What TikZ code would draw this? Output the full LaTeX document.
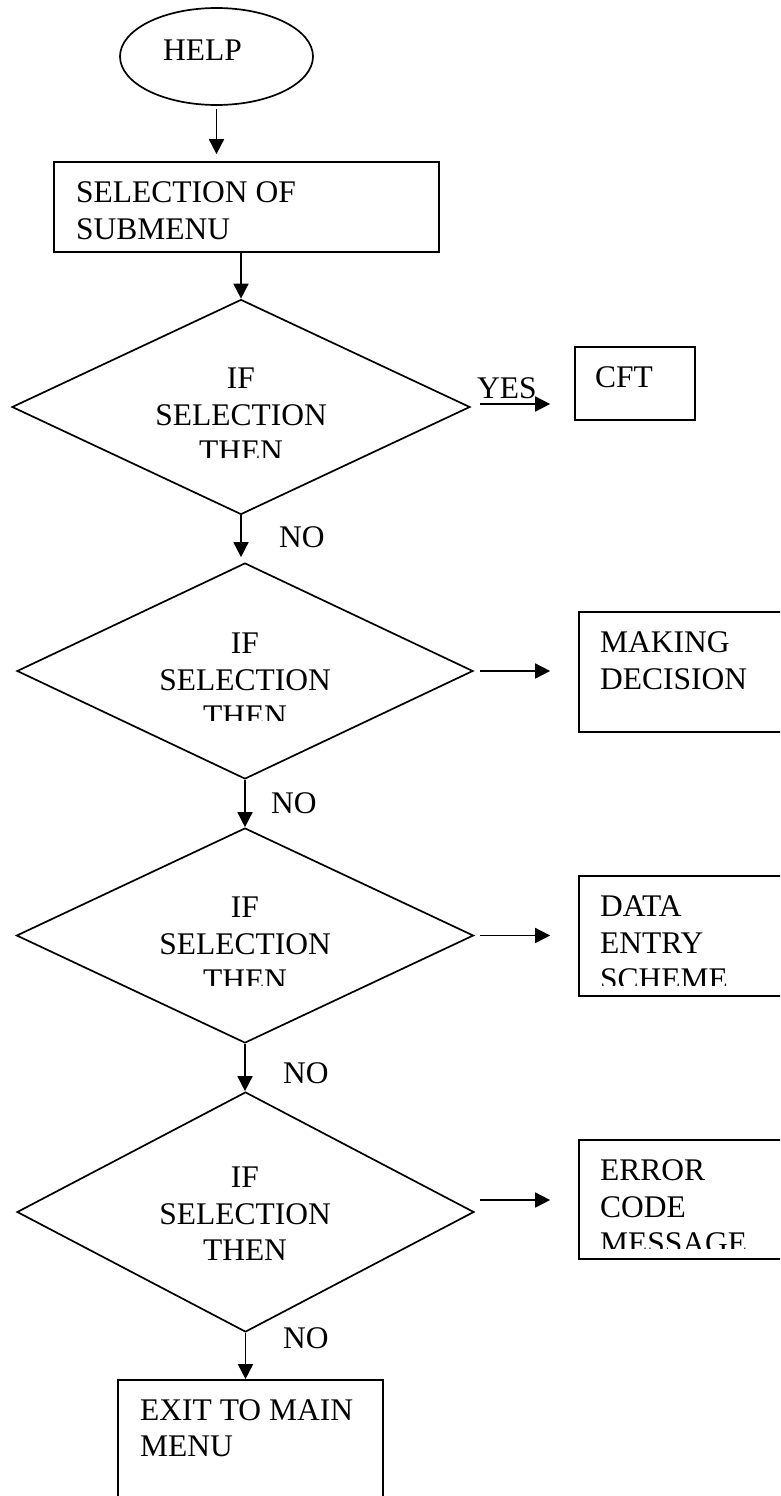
\documentclass[tikz,border=0pt]{standalone}
\usepackage{fontspec}
\setmainfont{Liberation Serif}
\usetikzlibrary{shapes.geometric,arrows.meta}
\begin{document}
\begin{tikzpicture}[x=1pt,y=-1pt,
  lw/.style={line width=1.7pt},
  box/.style={draw,lw,rectangle,inner sep=0pt},
  dia/.style={draw,lw,diamond,inner sep=0pt},
  oval/.style={draw,lw,ellipse,inner sep=0pt},
  lbl/.style={font=\fontsize{31.5}{36.5}\selectfont,inner sep=0pt},
  arr/.style={lw,-{Triangle[length=15pt,width=15pt]}}
]
\useasboundingbox (0,0) rectangle (780,1496);
\fill[white] (0,0) rectangle (780,1496);
\clip (0,0) rectangle (780,1496);

% start (multi-line labels are anchored at the baseline of their last line)
\node[oval,minimum width=193pt,minimum height=97pt] (help) at (216.5,56.5) {};
\node[lbl,anchor=base] (helptxt) at (202.5,60.5) {HELP};

% submenu selection
\node[box,minimum width=385pt,minimum height=90pt] (sel) at (246.5,207) {};
\node[lbl,anchor=base west,align=left] (seltxt) at (76,239) {SELECTION OF\\SUBMENU};

% decisions
\node[dia,minimum width=458pt,minimum height=215pt] (d1) at (241,407) {};
\node[dia,minimum width=456pt,minimum height=216pt] (d2) at (245,671) {};
\node[dia,minimum width=457pt,minimum height=215pt] (d3) at (245,935.5) {};
\node[dia,minimum width=457pt,minimum height=240pt] (d4) at (245.5,1212) {};

\begin{scope}
  \clip (0,300) rectangle (780,457);
  \node[lbl,anchor=base,align=center] (t1) at (241,461.5) {IF\\SELECTION\\THEN};
\end{scope}
\begin{scope}
  \clip (0,560) rectangle (780,720);
  \node[lbl,anchor=base,align=center] (t2) at (245,726.5) {IF\\SELECTION\\THEN};
\end{scope}
\begin{scope}
  \clip (0,830) rectangle (780,985);
  \node[lbl,anchor=base,align=center] (t3) at (245,990.5) {IF\\SELECTION\\THEN};
\end{scope}
\node[lbl,anchor=base,align=center] (t4) at (245,1260.5) {IF\\SELECTION\\THEN};

% outcomes
\node[box,minimum width=120pt,minimum height=73pt] (cft) at (635,383.5) {};
\node[lbl,anchor=base west] (cfttxt) at (595,387.5) {CFT};

\node[box,minimum width=221pt,minimum height=120pt] (mk) at (689.5,672) {};
\node[lbl,anchor=base west,align=left] (mktxt) at (600,689) {MAKING\\DECISION};

\node[box,minimum width=221pt,minimum height=120pt] (de) at (689.5,936) {};
\begin{scope}
  \clip (580,877) rectangle (780,985);
  \node[lbl,anchor=base west,align=left] (detxt) at (600,989.5) {DATA\\ENTRY\\SCHEME};
\end{scope}

\node[box,minimum width=221pt,minimum height=119pt] (ec) at (689.5,1199.5) {};
\begin{scope}
  \clip (580,1141) rectangle (780,1248);
  \node[lbl,anchor=base west,align=left] (ectxt) at (600,1253.5) {ERROR\\CODE\\MESSAGE};
\end{scope}

\node[box,minimum width=265pt,minimum height=150pt] (exit) at (250.5,1455) {};
\node[lbl,anchor=base west,align=left] (exittxt) at (140,1456.5) {EXIT TO MAIN\\MENU};

% branch labels
\node[lbl,anchor=base west] (yes) at (477,398) {YES};
\node[lbl,anchor=base west] (no1) at (279,547) {NO};
\node[lbl,anchor=base west] (no2) at (271,813) {NO};
\node[lbl,anchor=base west] (no3) at (283,1083) {NO};
\node[lbl,anchor=base west] (no4) at (283,1348) {NO};

% main flow
\draw[arr,shorten <=3pt,shorten >=7pt] (help.south) -- (help.south |- sel.north);
\draw[arr] (d1.north |- sel.south) -- (d1.north);
\draw[arr,shorten >=5pt] (d1.south) -- (d1.south |- d2.north);
\draw[arr] (d2.south) -- (d3.north);
\draw[arr] (d3.south) -- (d3.south |- d4.north);
\draw[arr] (d4.south) -- (d4.south |- exit.north);

% side branches
\draw[arr,shorten <=9pt,shorten >=24pt] ([yshift=3pt]d1.east) -- ([yshift=3pt]d1.east -| cft.west);
\draw[arr,shorten <=6pt,shorten >=28pt] (d2.east) -- (d2.east -| mk.west);
\draw[arr,shorten <=6pt,shorten >=28pt] (d3.east) -- (d3.east -| de.west);
\draw[arr,shorten <=5pt,shorten >=28pt] ([yshift=12pt]d4.east) -- ([yshift=12pt]d4.east -| ec.west);
\end{tikzpicture}
\end{document}
